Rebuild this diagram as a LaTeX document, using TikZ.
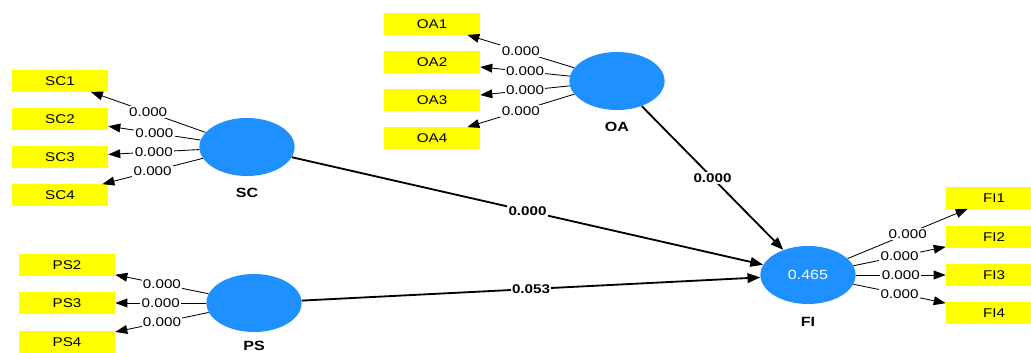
\documentclass[tikz,border=0pt]{standalone}
\usepackage{fontspec}
\setmainfont{Liberation Sans}
\newfontfamily\plsfont[FakeStretch=1.2]{Liberation Sans}
\usetikzlibrary{arrows.meta,shapes.geometric}
\definecolor{plsblue}{RGB}{30,144,255}
\definecolor{plsyellow}{RGB}{255,255,0}
\tikzset{
    itembox/.style={fill=plsyellow, minimum width=2.4cm, minimum height=0.53cm,
        inner sep=0pt, font=\plsfont\fontsize{9}{10}\selectfont},
    latent/.style={ellipse, fill=plsblue, minimum width=2.38cm, minimum height=1.45cm,
        inner sep=0pt, text=white, font=\plsfont\fontsize{9.5}{10}\selectfont},
    latentname/.style={font=\plsfont\bfseries\fontsize{9.5}{10}\selectfont},
    loadarrow/.style={-{Triangle[length=3mm,width=2.2mm]}, line width=0.6pt},
    patharrow/.style={-{Triangle[length=3.2mm,width=2.4mm]}, line width=1.3pt},
    loadlabel/.style={pos=0.5, fill=white, inner sep=1pt, font=\plsfont\fontsize{9}{10}\selectfont},
    pathlabel/.style={pos=0.5, fill=white, inner sep=1pt, font=\plsfont\bfseries\fontsize{9}{10}\selectfont}
}

\begin{document}
\begin{tikzpicture}[x=0.025cm, y=-0.025cm]
\useasboundingbox (0,0) rectangle (1031,353);
% latent variables
\node[latent] (SC) at (247,147) {};
\node[latent] (OA) at (617,81) {};
\node[latent] (PS) at (254,303) {};
\node[latent] (FI) at (808,275) {0.465};
\node[latentname] (SClab) at (247,193) {SC};
\node[latentname] (OAlab) at (617,127) {OA};
\node[latentname] (PSlab) at (254,346) {PS};
\node[latentname] (FIlab) at (808,322) {FI};
% indicators
\foreach \i/\y in {1/81,2/119,3/157,4/195}
    \node[itembox] (SC\i) at (60,\y) {SC\i};
\foreach \i/\y in {1/24,2/62,3/100,4/138}
    \node[itembox] (OA\i) at (432,\y) {OA\i};
\foreach \i/\y in {2/265,3/303,4/342}
    \node[itembox] (PS\i) at (67,\y) {PS\i};
\foreach \i/\y in {1/198,2/237,3/275,4/313}
    \node[itembox] (FI\i) at (994,\y) {FI\i};
% loadings
\foreach \i in {1,...,4}
    \draw[loadarrow] (SC) -- (SC\i) node[loadlabel] {0.000};
\foreach \i in {1,...,4}
    \draw[loadarrow] (OA) -- (OA\i) node[loadlabel] {0.000};
\foreach \i in {2,3,4}
    \draw[loadarrow] (PS) -- (PS\i) node[loadlabel] {0.000};
\foreach \i in {1,...,4}
    \draw[loadarrow] (FI) -- (FI\i) node[loadlabel] {0.000};
% structural paths
\draw[patharrow] (SC) -- (FI) node[pathlabel] {0.000};
\draw[patharrow] (OA) -- (FI) node[pathlabel] {0.000};
\draw[patharrow] (PS) -- (FI) node[pathlabel] {0.053};
\end{tikzpicture}
\end{document}
